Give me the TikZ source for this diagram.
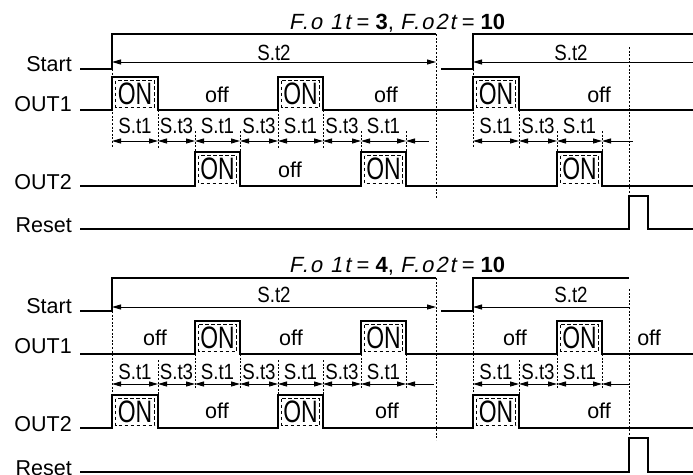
\documentclass[tikz,border=0pt]{standalone}
\usepackage{fontspec}
\setmainfont{Liberation Sans}
\newfontfamily\condfont[FakeStretch=0.85]{Liberation Sans}
\newfontfamily\onfont[FakeStretch=0.74]{Liberation Sans}
\newfontfamily\segfont[FakeSlant=0.2,LetterSpace=9]{Liberation Sans}
\usetikzlibrary{arrows.meta}
\tikzset{
  sig/.style     = {line width=2.6pt, line join=miter, line cap=butt},
  guide/.style   = {line width=0.7pt, dash pattern=on 2pt off 1.6pt},
  dimarr/.style  = {line width=0.9pt,
                    {Triangle[length=9pt,width=5pt]}-{Triangle[length=9pt,width=5pt]}},
  dimleft/.style = {line width=0.9pt, {Triangle[length=9pt,width=5pt]}-},
  onhatch/.style = {line width=0.9pt, dash pattern=on 3.5pt off 2.5pt},
  sname/.style   = {font=\fontsize{21.5}{24}\selectfont, anchor=base east, inner sep=0pt},
  sttxt/.style   = {font=\fontsize{22}{24}\selectfont\condfont, inner sep=0pt},
  offtxt/.style  = {font=\fontsize{21.5}{24}\selectfont, anchor=base, inner sep=0pt},
  ontxt/.style   = {font=\fontsize{31}{33}\selectfont\onfont, inner sep=0pt},
  ttl/.style     = {font=\fontsize{22}{24}\selectfont, anchor=base, inner sep=0pt},
}
% ON pulse: name, x left, x right, y low, y high
\newcommand{\onpulse}[5]{%
  \draw[onhatch] (#2+3.5,#5+3.5) rectangle (#3-3.5,#4-2.5);
  \node[ontxt] (#1) at ({(#2+#3)/2},{(#4+#5)/2}) {ON};
}
% S.t1/S.t3 row: arrow y, text y, tail end 1, tail end 2, name prefix
\newcommand{\strow}[5]{%
  \foreach \a/\b/\lab [count=\i] in {112/158/S.t1,158/195/S.t3,195/240/S.t1,
      240/278/S.t3,278/323/S.t1,323/361/S.t3,361/406/S.t1,
      473/519/S.t1,519/557/S.t3,557/602/S.t1}{
    \draw[dimarr] (\a,#1) -- (\b,#1);
    \node[sttxt] (#5\i) at ({(\a+\b)/2},#2) {\lab};
  }
  \draw[dimleft] (406,#1) -- (#3,#1);
  \draw[dimleft] (602,#1) -- (#4,#1);
}

\begin{document}
\begin{tikzpicture}[x=1pt,y=-1pt]
  \fill[white] (0,0) rectangle (693,474);
  \useasboundingbox (0,0) rectangle (693,474);

  % ---- upper chart: F.o1t = 3
  \node[ttl] (ttla) at (397,29) {{\segfont F.o 1t} = \textbf{3}, {\segfont F.o2t} = \textbf{10}};
  \node[sname] (starta) at (72,71)  {Start};
  \node[sname] (out1a)  at (72,111) {OUT1};
  \node[sname] (out2a)  at (72,189) {OUT2};
  \node[sname] (reseta) at (72,232) {Reset};

  \foreach \x/\ya/\yb in {112/69/148,158/110/148,195/131/152,240/131/152,
      278/110/148,323/110/148,361/131/152,406/131/152,473/69/148,
      519/110/148,557/131/152,602/131/152,436/34/198,629/47/196}
    \draw[guide] (\x,\ya) -- (\x,\yb);

  \draw[dimarr]  (112,62) -- (436,62);
  \node[sttxt] (t2a) at (274,53) {S.t2};
  \draw[dimleft] (473,62) -- (693,62);
  \node[sttxt] (t2b) at (571,53) {S.t2};
  \strow{141}{126}{429}{633}{sa}

  \onpulse{ona1}{112}{158}{110}{77}
  \onpulse{ona2}{278}{323}{110}{77}
  \onpulse{ona3}{473}{519}{110}{77}
  \onpulse{ona4}{195}{240}{186}{152}
  \onpulse{ona5}{361}{406}{186}{152}
  \onpulse{ona6}{557}{602}{186}{152}
  \node[offtxt] (offa1) at (217,102) {off};
  \node[offtxt] (offa2) at (386,102) {off};
  \node[offtxt] (offa3) at (599,102) {off};
  \node[offtxt] (offa4) at (290,177) {off};

  \draw[sig] (80,69) -- (112,69) -- (112,34) -- (436,34);
  \draw[sig] (441,69) -- (473,69) -- (473,34) -- (693,34);
  \draw[sig] (80,110) -- (112,110) -- (112,77) -- (158,77) -- (158,110)
    -- (278,110) -- (278,77) -- (323,77) -- (323,110) -- (473,110)
    -- (473,77) -- (519,77) -- (519,110) -- (693,110);
  \draw[sig] (80,186) -- (195,186) -- (195,152) -- (240,152) -- (240,186)
    -- (361,186) -- (361,152) -- (406,152) -- (406,186) -- (557,186)
    -- (557,152) -- (602,152) -- (602,186) -- (693,186);
  \draw[sig] (80,229) -- (629,229) -- (629,196) -- (648,196) -- (648,229) -- (693,229);

  % ---- lower chart: F.o1t = 4
  \node[ttl] (ttlb) at (397,272) {{\segfont F.o 1t} = \textbf{4}, {\segfont F.o2t} = \textbf{10}};
  \node[sname] (startb) at (72,313) {Start};
  \node[sname] (out1b)  at (72,353) {OUT1};
  \node[sname] (out2b)  at (72,431) {OUT2};
  \node[sname] (resetb) at (72,475) {Reset};

  \foreach \x/\ya/\yb in {112/311/395,158/360/395,195/354/388,240/354/388,
      278/360/395,323/360/395,361/354/388,406/354/388,473/311/395,
      519/360/395,557/354/388,602/354/388,436/278/440,629/289/438}
    \draw[guide] (\x,\ya) -- (\x,\yb);

  \draw[dimarr]  (112,307) -- (436,307);
  \node[sttxt] (t2c) at (274,295) {S.t2};
  \draw[dimleft] (473,307) -- (629,307);
  \node[sttxt] (t2d) at (571,295) {S.t2};
  \strow{384}{372}{434}{629}{sb}

  \onpulse{onb1}{195}{240}{354}{321}
  \onpulse{onb2}{361}{406}{354}{321}
  \onpulse{onb3}{557}{602}{354}{321}
  \onpulse{onb4}{112}{158}{428}{395}
  \onpulse{onb5}{278}{323}{428}{395}
  \onpulse{onb6}{473}{519}{428}{395}
  \node[offtxt] (offb1) at (155,345) {off};
  \node[offtxt] (offb2) at (291,345) {off};
  \node[offtxt] (offb3) at (515,345) {off};
  \node[offtxt] (offb4) at (649,345) {off};
  \node[offtxt] (offb5) at (217,418) {off};
  \node[offtxt] (offb6) at (387,418) {off};
  \node[offtxt] (offb7) at (599,418) {off};

  \draw[sig] (80,311) -- (112,311) -- (112,278) -- (436,278);
  \draw[sig] (441,311) -- (473,311) -- (473,278) -- (629,278);
  \draw[sig] (80,354) -- (195,354) -- (195,321) -- (240,321) -- (240,354)
    -- (361,354) -- (361,321) -- (406,321) -- (406,354) -- (557,354)
    -- (557,321) -- (602,321) -- (602,354) -- (693,354);
  \draw[sig] (80,428) -- (112,428) -- (112,395) -- (158,395) -- (158,428)
    -- (278,428) -- (278,395) -- (323,395) -- (323,428) -- (473,428)
    -- (473,395) -- (519,395) -- (519,428) -- (693,428);
  \draw[sig] (80,472) -- (629,472) -- (629,438) -- (648,438) -- (648,472) -- (693,472);
\end{tikzpicture}
\end{document}
